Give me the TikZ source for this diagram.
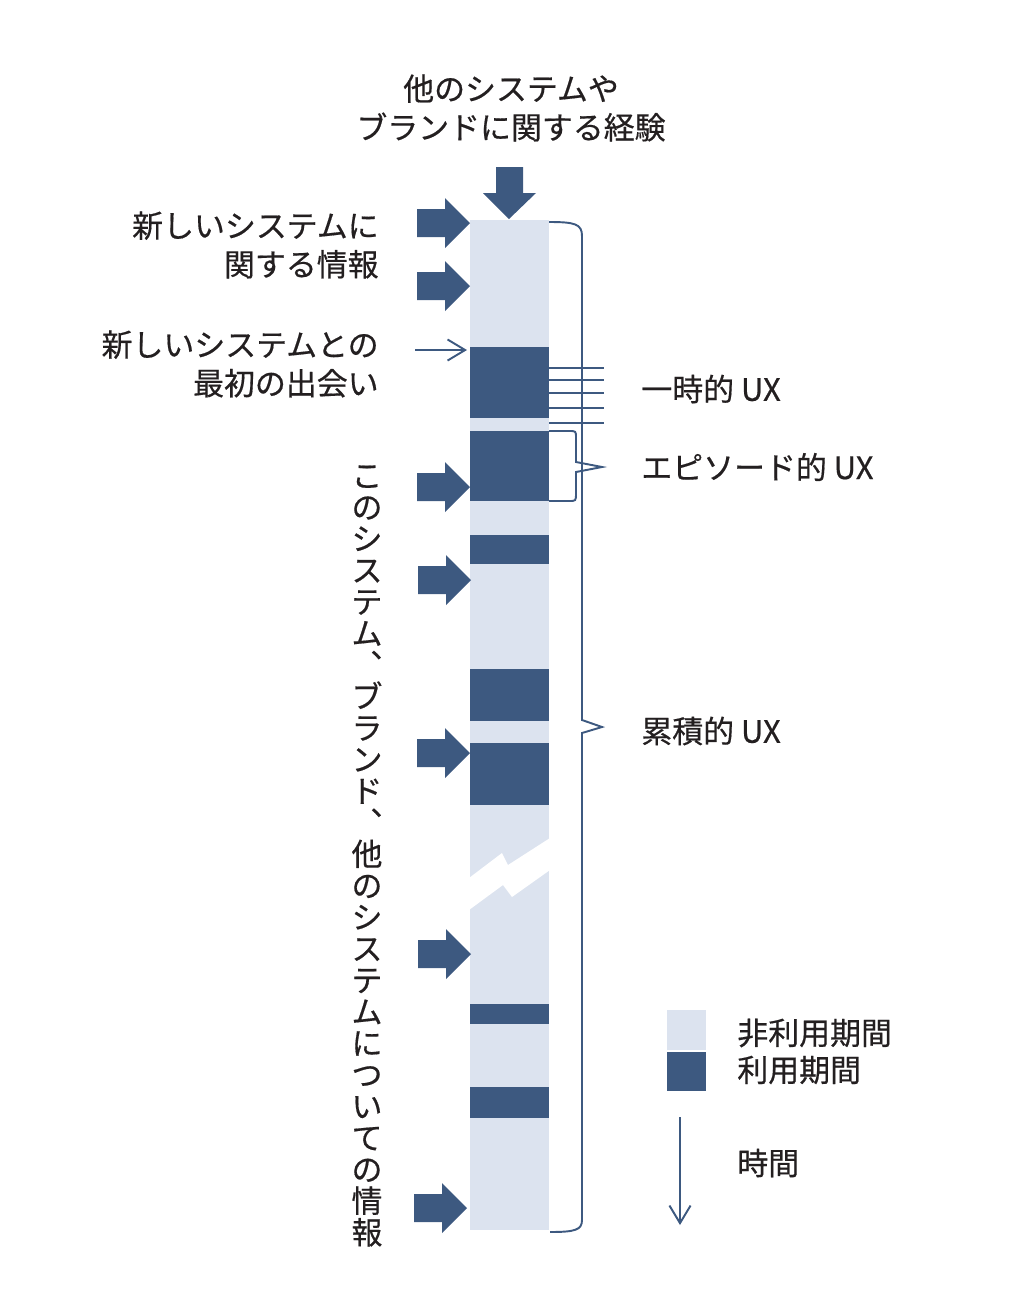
\documentclass[tikz,border=0pt]{standalone}
\usepackage{fontspec}
\usepackage{tikz}
\usepackage{xcolor}
\usetikzlibrary{arrows.meta}
\newfontfamily\jpfont[FakeBold=0.5]{Noto Sans CJK JP}
\definecolor{uxdark}{RGB}{61,89,128}
\definecolor{uxlight}{RGB}{220,227,239}
\definecolor{uxtext}{RGB}{35,31,32}

\begin{document}
\begin{tikzpicture}[x=0.02cm,y=-0.02cm,>=Stealth,
  lbl/.style={text=uxtext,inner sep=0pt,font={\jpfont\fontsize{17.6}{22}\selectfont}},
  uxline/.style={uxdark,line width=1.1pt},
  barb/.style={-{Straight Barb[length=10pt,width=12pt]}}]
  \useasboundingbox (0,0) rectangle (1030,1292);
  \coordinate (barTL) at (470,220);
  \coordinate (barBR) at (549,1230);
  \fill[uxlight] (barTL) rectangle (barBR);
  \fill[white] (469,878) -- (502,853) -- (508,865) -- (550,838) -- (550,870)
    -- (512,897) -- (503,885) -- (469,910) -- cycle;
  \foreach \ya/\yb in {347/418,431/501,535/564,669/721,743/805,1004/1024,1087/1118}
    \fill[uxdark] (470,\ya) rectangle (549,\yb);
  \foreach \yl in {368,380,393,408,423}
    \draw[uxdark,line width=0.8pt] (549,\yl) -- (604,\yl);
  % block arrows
  \foreach \tx/\ty in {470/223,470/286,470/487,471/580,470/753,471/954,467/1208}
    \fill[uxdark] (\tx,\ty) -- ++(-25,-25) -- ++(0,11) -- ++(-28,0) -- ++(0,28)
      -- ++(28,0) -- ++(0,11) -- cycle;
  \fill[uxdark] (509,219) -- ++(-26,-26) -- ++(13,0) -- ++(0,-26) -- ++(27,0)
    -- ++(0,26) -- ++(13,0) -- cycle;
  % brackets
  \draw[uxline] (549,222) .. controls (575,222) and (582,224) .. (582,236)
    -- (582,720) -- (602,727) -- (582,733) -- (582,1220)
    .. controls (582,1230) and (575,1232) .. (550,1232);
  \draw[uxline] (549,431) -- (569,431) .. controls (576,431) .. (576,438)
    -- (576,462) -- (602,467) -- (576,472) -- (576,493)
    .. controls (576,501) .. (569,501) -- (549,501);
  \coordinate (meetA) at (415,350);
  \coordinate (meetB) at (467,350);
  \draw[uxline,barb] (meetA) -- (meetB);
  % legend
  \fill[uxlight] (667,1010) rectangle (706,1050);
  \fill[uxdark] (667,1052) rectangle (706,1091);
  \coordinate (timeA) at (680,1117);
  \coordinate (timeB) at (680,1225);
  \draw[uxline,barb] (timeA) -- (timeB);
  % labels
  \node[lbl,align=center] (prior) at (511,108) {他のシステムや\\ブランドに関する経験};
  \node[lbl,align=right,anchor=east] (newinfo) at (379,245) {新しいシステムに\\関する情報};
  \node[lbl,align=right,anchor=east] (firstmeet) at (379,364) {新しいシステムとの\\最初の出会い};
  \node[lbl,anchor=west] (momux) at (641,389) {一時的 UX};
  \node[lbl,anchor=west] (epiux) at (641,467) {エピソード的 UX};
  \node[lbl,anchor=west] (cumux) at (641,731) {累積的 UX};
  \node[lbl,anchor=west] (nonuse) at (737,1033) {非利用期間};
  \node[lbl,anchor=west] (use) at (737,1070) {利用期間};
  \node[lbl,anchor=west] (timelbl) at (737,1163) {時間};
  \node[lbl,align=center,anchor=north,font={\jpfont\fontsize{17.6}{17.95}\selectfont}] (vinfo) at (367,465)
    {こ\\の\\シ\\ス\\テ\\ム\\︑\\ブ\\ラ\\ン\\ド\\︑\\他\\の\\シ\\ス\\テ\\ム\\に\\つ\\い\\て\\の\\情\\報};
\end{tikzpicture}
\end{document}
